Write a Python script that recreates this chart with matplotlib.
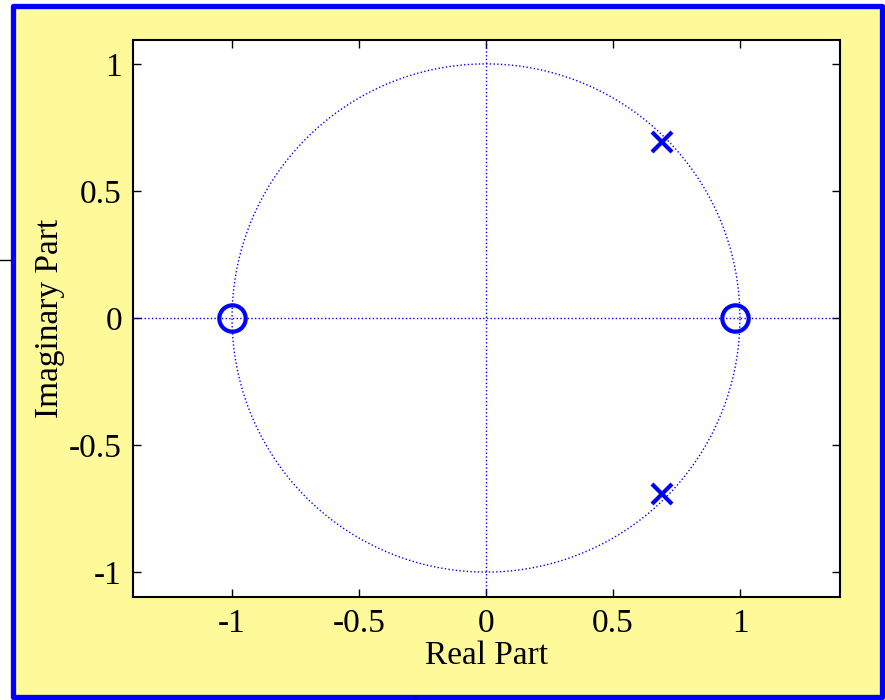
import matplotlib.pyplot as plt
import numpy as np
from matplotlib.patches import Rectangle
from matplotlib.lines import Line2D

# zeri e poli del filtro
zeros = np.array([-1.0, 0.98])
poles = np.array([0.693 + 0.693j, 0.693 - 0.693j])

ticks_x = [-1, -0.5, 0, 0.5, 1]
ticks_y = [-1, -0.5, 0, 0.5, 1]

plt.rcParams['font.family'] = ['Liberation Serif', 'DejaVu Serif']
plt.rcParams['font.size'] = 24

fig = plt.figure(figsize=(8.85, 7), dpi=100)
fig.patch.set_facecolor('white')

# cornice gialla con bordo blu
fig.patches.append(Rectangle((12.5/885, 3/700), 869.5/885, 691.5/700,
                             transform=fig.transFigure, facecolor='#FEFA9A',
                             edgecolor='#0000FF', linewidth=3.8, joinstyle='round',
                             zorder=-5))
fig.lines.append(Line2D([0, 10/885], [1-260/700, 1-260/700], transform=fig.transFigure,
                        color='black', lw=1))
fig.lines.append(Line2D([415/885, 415/885], [0, 3/700], transform=fig.transFigure,
                        color='black', lw=1))

ax = fig.add_axes([133/885, 1-597/700, 707/885, 557/700])
ax.set_facecolor('white')

t = np.linspace(0, 2*np.pi, 500)
ax.plot(np.cos(t), np.sin(t), ':', color='blue', lw=1)
ax.axhline(0, ls=':', color='blue', lw=1)
ax.axvline(0, ls=':', color='blue', lw=1)

ax.plot(zeros.real, zeros.imag, 'o', ms=19, mfc='none', mec='blue', mew=3)
ax.plot(poles.real, poles.imag, 'x', ms=14, mec='blue', mew=3)

ax.set_xlim(-1.39, 1.394)
ax.set_ylim(-1.098, 1.094)
ax.set_xticks(ticks_x)
ax.set_yticks(ticks_y)
ax.set_xticklabels(['-1', '-0.5', '0', '0.5', '1'])
ax.set_yticklabels(['-1', '-0.5', '0', '0.5', '1'])
ax.tick_params(direction='in', length=6, width=1, top=True, right=True, pad=8)
for s in ax.spines.values():
    s.set_linewidth(1.5)

ax.set_xlabel('Real Part', labelpad=1)
ax.set_ylabel('Imaginary Part', labelpad=3)

plt.savefig('out.png', dpi=100)
